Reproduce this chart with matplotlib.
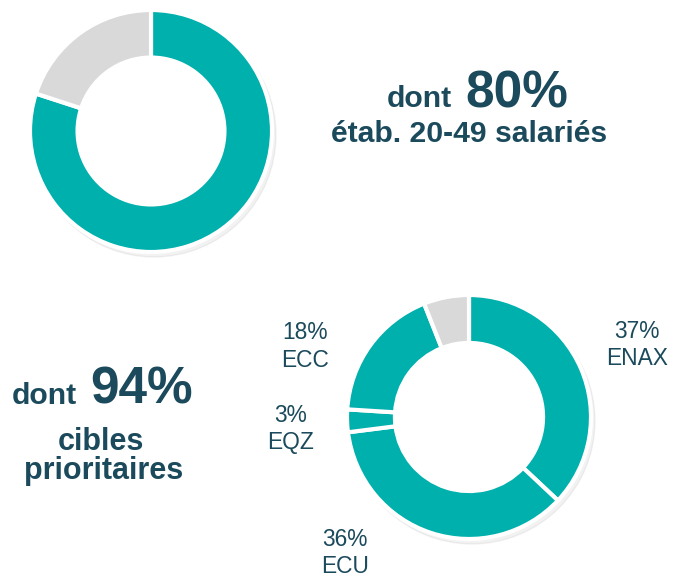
import matplotlib.pyplot as plt
from matplotlib.patches import Circle

plt.rcParams['font.family'] = ['Liberation Sans', 'DejaVu Sans']

TEAL = '#00B0AD'
GREY = '#D9D9D9'
TXT = '#1B4A5C'

# donut du haut : part des établissements 20-49 salariés
top_values = [80, 20]
top_colors = [TEAL, GREY]

# donut du bas : cibles prioritaires
bot_labels = ['ENAX', 'ECU', 'EQZ', 'ECC', '']
bot_values = [37, 36, 3, 18, 6]
bot_colors = [TEAL, TEAL, TEAL, TEAL, GREY]

W, H = 683, 579
fig = plt.figure(figsize=(W / 100, H / 100), dpi=100)
ax = fig.add_axes([0, 0, 1, 1])


def donut(cx, cy, r, values, colors, hole=0.607):
    # ombre légère
    ax.add_patch(Circle((cx + 3, cy - 4), r + 1, color='#000000', alpha=0.05, zorder=0))
    ax.pie(values, colors=colors, startangle=90, counterclock=False,
           center=(cx, cy), radius=r, frame=True,
           wedgeprops=dict(width=r * (1 - hole), edgecolor='white', linewidth=3))
    ax.add_patch(Circle((cx, cy), r * hole - 1, color='white', zorder=3))


donut(151, H - 131, 121, top_values, top_colors)
donut(469, H - 417, 122, bot_values, bot_colors)
ax.set_xlim(0, W)
ax.set_ylim(0, H)
ax.set_aspect('equal')
ax.axis('off')

# textes du haut
ax.text(387, H - 107, 'dont', fontsize=21.7, fontweight='bold', color=TXT,
        ha='left', va='baseline')
ax.text(465, H - 107, '80%', fontsize=37, fontweight='bold', color=TXT,
        ha='left', va='baseline')
ax.text(469, H - 142, 'étab. 20-49 salariés', fontsize=21.7, fontweight='bold',
        color=TXT, ha='center', va='baseline')

# textes du bas
ax.text(12, H - 404, 'dont', fontsize=21.7, fontweight='bold', color=TXT,
        ha='left', va='baseline')
ax.text(90, H - 404, '94%', fontsize=37, fontweight='bold', color=TXT,
        ha='left', va='baseline')
ax.text(101, H - 450, 'cibles', fontsize=22, fontweight='bold', color=TXT,
        ha='center', va='baseline')
ax.text(103.5, H - 479, 'prioritaires', fontsize=22, fontweight='bold', color=TXT,
        ha='center', va='baseline')

# étiquettes des segments (x centre, ligne de base du %, ligne de base du nom)
label_pos = {'ENAX': (637, 338, 365), 'ECU': (345, 546, 573),
             'EQZ': (291, 422, 449), 'ECC': (305, 339, 367)}
for name, v in zip(bot_labels, bot_values):
    if not name:
        continue
    x, y1, y2 = label_pos[name]
    ax.text(x, H - y1, f'{v}%', fontsize=16.4, color=TXT, ha='center', va='baseline')
    ax.text(x, H - y2, name, fontsize=16.4, color=TXT, ha='center', va='baseline')

fig.savefig('out.png', dpi=100)
